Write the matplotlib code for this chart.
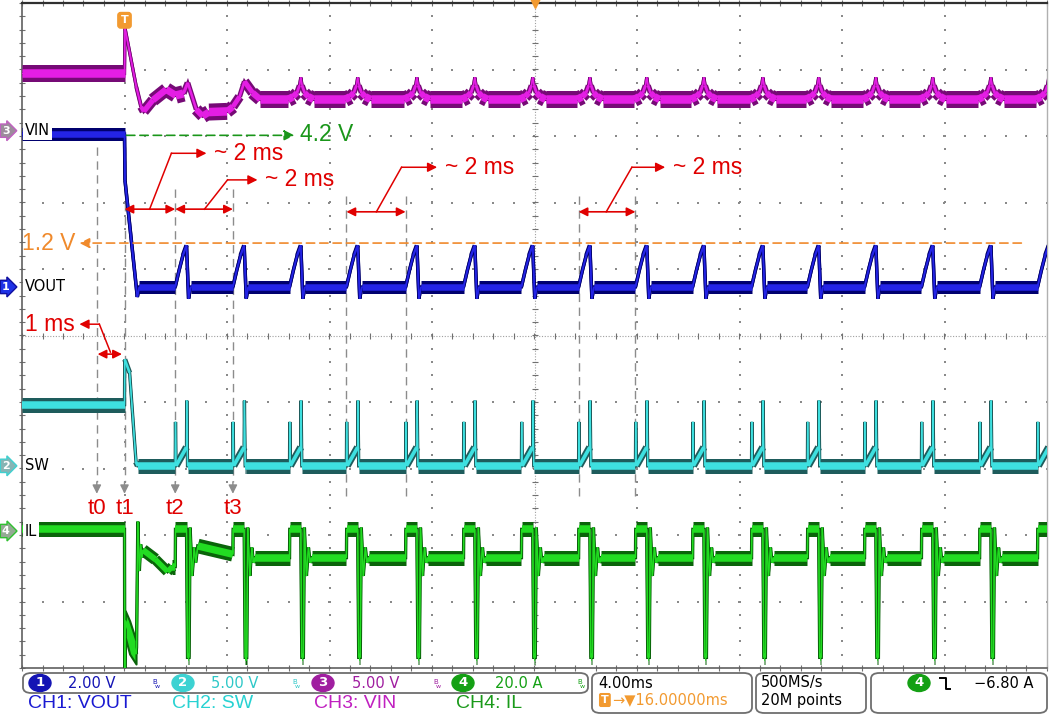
import matplotlib
matplotlib.use("Agg")
import matplotlib.pyplot as plt
import matplotlib.transforms as mtransforms
from matplotlib.collections import LineCollection
from matplotlib.patches import FancyBboxPatch, Ellipse
from matplotlib.lines import Line2D
import numpy as np

W, H = 1050, 716

# screen: 10 x 10 divisions, 4 ms/div, trigger (t1) at 0 ms
X_MIN, X_MAX = -4.0, 36.0
Y_MIN, Y_MAX = -5.0, 5.0
PX_PER_MS = 1025 / 40
PX_PER_DIV = 66.5

# channel scale (unit/div) and ground marker position (div)
VOUT_SCALE, VOUT_POS = 2.0, 0.73
SW_SCALE, SW_POS = 5.0, -1.96
VIN_SCALE, VIN_POS = 5.0, 3.08
IL_SCALE, IL_POS = 20.0, -2.94

# start of each hiccup restart (ms), ramp length to the VOUT peak
PULSE_START_MS = [1.98, 4.23, 6.44, 8.66, 10.97, 13.23, 15.49, 17.72,
                  19.94, 22.17, 24.47, 26.65, 28.88, 31.10, 33.37, 35.63]
RAMP_MS = 0.44

# CH1 VOUT (V)
VOUT_PRE_V = 4.6
VOUT_FALL_MS = [0.0, 0.02, 0.50, 0.58]
VOUT_FALL_V = [4.6, 3.2, -0.3, 0.0]
VOUT_PULSE_MS = [0.0, 0.15, 0.30, 0.44, 0.52, 0.60]
VOUT_PULSE_V = [0.0, 0.5, 0.95, 1.25, -0.35, 0.0]
VOUT_LOW_V = 0.0

# CH3 VIN (V)
VIN_PRE_V = 4.3
VIN_HEAD_MS = [0.0, 0.02, 0.26, 0.46, 0.65, 0.75, 1.11, 1.63, 2.0, 2.30,
               2.47, 2.80, 3.05, 3.30, 4.00, 4.23, 4.49, 4.68, 5.00, 5.30]
VIN_HEAD_V = [4.3, 7.7, 5.3, 3.3, 1.8, 1.45, 2.3, 3.1, 2.65, 2.8,
              3.6, 1.6, 1.1, 1.4, 1.45, 1.8, 2.55, 3.7, 2.85, 2.35]
VIN_CUSP_MS = [-0.5, -0.3, -0.15, -0.05, 0.0, 0.05, 0.15, 0.3, 0.5]
VIN_CUSP_V = [2.35, 2.55, 2.85, 3.4, 4.0, 3.4, 2.85, 2.55, 2.35]
VIN_BASE_V = 2.35

# CH2 SW (V)
SW_PRE_V = 4.6
SW_HEAD_MS = [0.0, 0.01, 0.20, 0.30, 0.45, 0.52]
SW_HEAD_V = [4.6, 8.0, 7.0, 4.3, 0.3, 0.0]
SW_PULSE_MS = [0.0, 0.01, 0.03, 0.44, 0.45, 0.48, 0.50]
SW_PULSE_V = [0.0, 3.3, 0.0, 1.4, 4.9, 0.0, 0.0]
SW_LOW_V = 0.0

# CH4 IL (A)
IL_PRE_A = 0.5
IL_HEAD_MS = [0.0, 0.01, 0.03, 0.45, 0.47, 0.52, 0.58, 0.63, 0.68, 0.72,
              1.20, 1.68, 1.87]
IL_HEAD_A = [0.5, -44.0, -27.0, -37.0, -35.0, 2.8, -12.0, -4.0, -8.0, -5.7,
             -8.5, -12.2, -10.7]
IL_BLOB_MS = [0.03, 0.20, 0.45]
IL_BLOB_TOP_A = [-24.0, -27.0, -33.0]
IL_BLOB_BOT_A = [-32.0, -37.0, -40.0]
IL_PULSE_MS = [0.01, 0.44, 0.48, 0.54, 0.58, 0.66, 0.74, 0.80]
IL_PULSE_A = [0.5, 0.5, -38.0, -38.0, 1.0, -13.5, -5.0, -9.5]
IL_SETTLE_MS = 0.88
IL_GAP_FIRST_A = (-4.5, -7.0)
IL_BAND_A = -8.0

RED = "#e00000"
GREY = "#8c8c8c"


def fx(px):
    return px / W


def fy(py):
    return 1 - py / H


def build_vout():
    t = [X_MIN] + VOUT_FALL_MS
    v = [VOUT_PRE_V] + VOUT_FALL_V
    for s in PULSE_START_MS:
        t += [s + d for d in VOUT_PULSE_MS]
        v += VOUT_PULSE_V
    return t + [X_MAX + 1], v + [VOUT_LOW_V]


def build_vin():
    t = [X_MIN] + VIN_HEAD_MS
    v = [VIN_PRE_V] + VIN_HEAD_V
    for s in PULSE_START_MS[2:]:
        t += [s + RAMP_MS + d for d in VIN_CUSP_MS]
        v += VIN_CUSP_V
    return t + [X_MAX + 1], v + [VIN_BASE_V]


def build_sw():
    t = [X_MIN] + SW_HEAD_MS
    v = [SW_PRE_V] + SW_HEAD_V
    for s in PULSE_START_MS:
        t += [s + d for d in SW_PULSE_MS]
        v += SW_PULSE_V
    return t + [X_MAX + 1], v + [SW_LOW_V]


def build_il():
    t = [X_MIN] + IL_HEAD_MS
    v = [IL_PRE_A] + IL_HEAD_A
    level = IL_HEAD_A[-1]
    for i, s in enumerate(PULSE_START_MS):
        t.append(s)
        v.append(level)
        t += [s + d for d in IL_PULSE_MS]
        v += IL_PULSE_A
        gap = IL_GAP_FIRST_A if i == 0 else (IL_BAND_A, IL_BAND_A)
        t.append(s + IL_SETTLE_MS)
        v.append(gap[0])
        level = gap[1]
    return t + [X_MAX + 1], v + [level]


def draw_trace(ax, t, v, scale, pos, dark, bright, band_px, min_px, z):
    t = np.asarray(t, float)
    y = np.asarray(v, float) / scale + pos
    dx = np.diff(t) * PX_PER_MS
    dy = np.diff(y) * PX_PER_DIV
    slope = np.abs(dy) / np.maximum(dx, 1e-6)
    w_px = np.maximum(min_px, band_px / np.sqrt(1 + slope ** 2))
    pts = np.column_stack([t, y])
    segs = np.stack([pts[:-1], pts[1:]], axis=1)
    pt = 0.72
    ax.plot(t, y, color=dark, lw=2.4, zorder=z, solid_joinstyle="miter")
    ax.add_collection(LineCollection(segs, linewidths=w_px * pt, colors=dark,
                                     capstyle="butt", zorder=z))
    ax.add_collection(LineCollection(segs, linewidths=np.maximum(1.0, w_px * 0.5) * pt,
                                     colors=bright, capstyle="butt", zorder=z + 0.1))
    ax.plot(t, y, color=bright, lw=0.8, zorder=z + 0.2)


fig = plt.figure(figsize=(W / 100, H / 100), dpi=100)
ax = fig.add_axes([fx(22), 48 / H, 1025 / W, 665 / H])
ax.set_xlim(X_MIN, X_MAX)
ax.set_ylim(Y_MIN, Y_MAX)
ax.set_xticks([])
ax.set_yticks([])
for side, col, lw in [("left", "#606060", 1.2), ("bottom", "#606060", 1.2),
                      ("top", "#303030", 1.6), ("right", "#b0b0b0", 1.0)]:
    ax.spines[side].set_color(col)
    ax.spines[side].set_linewidth(lw)

# graticule
hx = np.arange(X_MIN, X_MAX + 0.01, 0.8)
vy = np.arange(Y_MIN, Y_MAX + 0.01, 0.2)
for gy in range(-4, 5):
    if gy != 0:
        ax.scatter(hx, np.full_like(hx, gy), s=1.3, marker="s", color="#8a8a8a",
                   linewidths=0, zorder=1)
for gx in np.arange(X_MIN + 4, X_MAX, 4.0):
    if gx != 16:
        ax.scatter(np.full_like(vy, gx), vy, s=1.3, marker="s", color="#8a8a8a",
                   linewidths=0, zorder=1)
ax.axhline(0, color="#a0a0a0", lw=0.8, ls=(0, (1, 1.5)), zorder=1)
ax.axvline(16, color="#a0a0a0", lw=0.8, ls=(0, (1, 1.5)), zorder=1)
ax.plot(hx, np.zeros_like(hx), ls="none", marker="|", ms=5, mew=0.8, color="#707070", zorder=1)
ax.plot(np.full_like(vy, 16), vy, ls="none", marker="_", ms=5, mew=0.8, color="#707070", zorder=1)
ax.plot(np.full_like(vy, X_MIN), vy, ls="none", marker="_", ms=4, mew=0.8, color="#707070",
        zorder=1, clip_on=False)
ax.plot(hx, np.full_like(hx, Y_MIN), ls="none", marker="|", ms=4, mew=0.8, color="#707070",
        zorder=1, clip_on=False)
ax.plot(hx, np.full_like(hx, Y_MAX), ls="none", marker="|", ms=4, mew=0.8, color="#707070",
        zorder=1, clip_on=False)

# dashed time markers
dash = (0, (6, 4))
T_MARK_MS = [-1.08, 0.0, 1.98, 4.23]
T_MARK_TOP = [2.83, 2.83, 2.2, 2.2]
T_LABELS = ["t0", "t1", "t2", "t3"]
for tm, top, lab in zip(T_MARK_MS, T_MARK_TOP, T_LABELS):
    ax.plot([tm, tm], [top, -2.2], color=GREY, lw=1.0, ls=dash, zorder=2)
    ax.annotate("", xy=(tm, -2.38), xytext=(tm, -2.2),
                arrowprops=dict(arrowstyle="-|>", color=GREY, lw=1.0,
                                mutation_scale=13, shrinkA=0, shrinkB=0), zorder=2)
    ax.text(tm, -2.6, lab, color=RED, fontsize=16, ha="center", va="center",
            family="Liberation Sans", zorder=8)
for tm in [8.66, 10.97, 17.72, 19.94]:
    ax.plot([tm, tm], [2.1, -2.45], color=GREY, lw=1.0, ls=dash, zorder=2)

# traces
draw_trace(ax, *build_vin(), VIN_SCALE, VIN_POS, "#760a76", "#e41ee4", 17, 3.0, 3)
draw_trace(ax, *build_vout(), VOUT_SCALE, VOUT_POS, "#00006e", "#2424e6", 13, 3.5, 4)
draw_trace(ax, *build_sw(), SW_SCALE, SW_POS, "#1e5c5c", "#3ee0e0", 15, 2.6, 5)
draw_trace(ax, *build_il(), IL_SCALE, IL_POS, "#0a640a", "#22dc22", 15, 2.6, 6)
blob_top = np.asarray(IL_BLOB_TOP_A) / IL_SCALE + IL_POS
blob_bot = np.asarray(IL_BLOB_BOT_A) / IL_SCALE + IL_POS
ax.fill_between(IL_BLOB_MS, blob_bot, blob_top, color="#22dc22", ec="#0a640a", lw=1.5, zorder=6)


def double_arrow(x0, x1, y):
    ax.annotate("", xy=(x1, y), xytext=(x0, y),
                arrowprops=dict(arrowstyle="<|-|>", color=RED, lw=1.2,
                                mutation_scale=13, shrinkA=0, shrinkB=0), zorder=8)


def leader(xa, ya, xb, yb, xc, label, right=False):
    ax.plot([xa, xb], [ya, yb], color=RED, lw=1.1, zorder=8)
    ax.annotate("", xy=(xc, yb), xytext=(xb, yb),
                arrowprops=dict(arrowstyle="-|>", color=RED, lw=1.1,
                                mutation_scale=14, shrinkA=0, shrinkB=0), zorder=8)
    if right:
        ax.text(xc - 0.17, yb, label, color=RED, fontsize=16.5, ha="right",
                va="center", family="Liberation Sans", zorder=8)
    else:
        ax.text(xc + 0.3, yb, label, color=RED, fontsize=16.5, ha="left",
                va="center", family="Liberation Sans", zorder=8)


double_arrow(0.0, 1.98, 1.90)
double_arrow(1.98, 4.23, 1.90)
double_arrow(8.66, 10.97, 1.86)
double_arrow(17.72, 19.94, 1.86)
double_arrow(-1.05, -0.1, -0.28)
leader(0.98, 1.90, 1.83, 2.74, 3.2, "~ 2 ms")
leader(3.12, 1.90, 4.02, 2.34, 5.19, "~ 2 ms")
leader(9.83, 1.86, 10.81, 2.53, 12.2, "~ 2 ms")
leader(18.8, 1.86, 19.8, 2.53, 21.1, "~ 2 ms")
leader(-0.55, -0.25, -0.98, 0.17, -1.76, "1 ms", right=True)

# level markers
ax.annotate("", xy=(6.63, 3.01), xytext=(0.08, 3.01),
            arrowprops=dict(arrowstyle="-|>", color="#1a961a", lw=1.2, ls=(0, (5, 3)),
                            mutation_scale=15, shrinkA=0, shrinkB=0), zorder=8)
ax.text(6.85, 3.03, "4.2 V", color="#1a961a", fontsize=16.5, ha="left", va="center",
        family="Liberation Sans", zorder=8)
ax.annotate("", xy=(-1.76, 1.39), xytext=(35.0, 1.39),
            arrowprops=dict(arrowstyle="-|>", color="#f08a2c", lw=1.2, ls=(0, (5, 3)),
                            mutation_scale=15, shrinkA=0, shrinkB=0), zorder=8)
ax.text(-1.93, 1.39, "1.2 V", color="#f08a2c", fontsize=16.5, ha="right", va="center",
        family="Liberation Sans", zorder=8)

# trigger markers
ax.text(0.0, 4.74, "T", color="white", fontsize=8, weight="bold", ha="center", va="center",
        bbox=dict(boxstyle="round,pad=0.25", fc="#f29a30", ec="#f29a30"), zorder=9)
ax.plot([16], [Y_MAX], marker="v", ms=7, color="#f29a30", clip_on=False, zorder=9)

# channel markers and names on the left
blend = mtransforms.blended_transform_factory(fig.transFigure, ax.transData)
CH_MARKERS = [("3", VIN_POS, "#9c8c9c", "#c060c0", "VIN"),
              ("1", VOUT_POS, "#1e32e6", "#1010a0", "VOUT"),
              ("2", SW_POS, "#86b4b4", "#40d0d0", "SW"),
              ("4", IL_POS, "#94aa94", "#30c030", "IL")]
for num, pos, fc, ec, name in CH_MARKERS:
    ax.text(fx(2), pos, num, transform=blend, color="white", fontsize=8, weight="bold",
            ha="left", va="center", clip_on=False, zorder=10,
            bbox=dict(boxstyle="rarrow,pad=0.15", fc=fc, ec=ec, lw=1))
    ax.text(fx(25), pos, name, transform=blend, color="black", fontsize=10.5,
            ha="left", va="center", zorder=10,
            bbox=dict(fc="white", ec="none", pad=1.5))

# status bar
def box(x0, x1, y0, y1):
    fig.add_artist(FancyBboxPatch((fx(x0), fy(y1)), fx(x1) - fx(x0), fy(y0) - fy(y1),
                                  boxstyle="round,pad=0,rounding_size=0.008",
                                  transform=fig.transFigure, fc="white", ec="#6e6e6e", lw=1.3))


box(23, 588, 673, 693)
box(592, 752, 673, 713)
box(756, 866, 673, 713)
box(871, 1047, 673, 713)

STATUS_CH = [("1", 40, "#1414b4", "white", "2.00 V", 68, 152),
             ("2", 183, "#3cd2d2", "white", "5.00 V", 211, 292),
             ("3", 323, "#a01ea0", "white", "5.00 V", 352, 433),
             ("4", 463, "#14a014", "white", "20.0 A", 495, 577)]
for num, cx, col, tcol, val, vx, bx in STATUS_CH:
    fig.add_artist(Ellipse((fx(cx), fy(683)), 22 / W, 17 / H, transform=fig.transFigure,
                           fc=col, ec=col))
    fig.text(fx(cx), fy(683), num, color=tcol, fontsize=9.5, weight="bold",
             ha="center", va="center")
    vcol = "#2ec8c8" if num == "2" else col
    fig.text(fx(vx), fy(683), val, color=vcol, fontsize=10.5, ha="left", va="center")
    fig.text(fx(bx), fy(682), "B", color=vcol, fontsize=5, ha="left", va="center")
    fig.text(fx(bx + 3), fy(686), "w", color=vcol, fontsize=4.5, ha="left", va="center")

CH_NAMES = [("CH1: VOUT", 28, "#1a1ad2"), ("CH2: SW", 172, "#28d2d2"),
            ("CH3: VIN", 314, "#c020c0"), ("CH4: IL", 456, "#1a9a1a")]
for text, x, col in CH_NAMES:
    fig.text(fx(x), fy(704), text, color=col, fontsize=14, ha="left", va="center",
             family="Liberation Sans")

fig.text(fx(598), fy(683), "4.00ms", color="black", fontsize=10.5, ha="left", va="center")
fig.text(fx(601), fy(700), "T", color="white", fontsize=8, weight="bold", ha="left",
         va="center", bbox=dict(boxstyle="round,pad=0.12", fc="#f29a30", ec="#f29a30"))
fig.text(fx(612), fy(700), "→▼16.00000ms", color="#f29a30", fontsize=10.5, ha="left",
         va="center")
fig.text(fx(761), fy(683), "500MS/s", color="black", fontsize=10.5, ha="left", va="center")
fig.text(fx(761), fy(700), "20M points", color="black", fontsize=10.5, ha="left", va="center")

fig.add_artist(Ellipse((fx(919), fy(683)), 22 / W, 17 / H, transform=fig.transFigure,
                       fc="#14a014", ec="#14a014"))
fig.text(fx(919), fy(683), "4", color="white", fontsize=9.5, weight="bold",
         ha="center", va="center")
fig.add_artist(Line2D([fx(940), fx(946), fx(946), fx(950)],
                      [fy(678), fy(678), fy(689), fy(689)],
                      transform=fig.transFigure, color="black", lw=1.4))
fig.text(fx(974), fy(683), "−6.80 A", color="black", fontsize=10.5, ha="left", va="center")

fig.savefig("out.png", dpi=100)
